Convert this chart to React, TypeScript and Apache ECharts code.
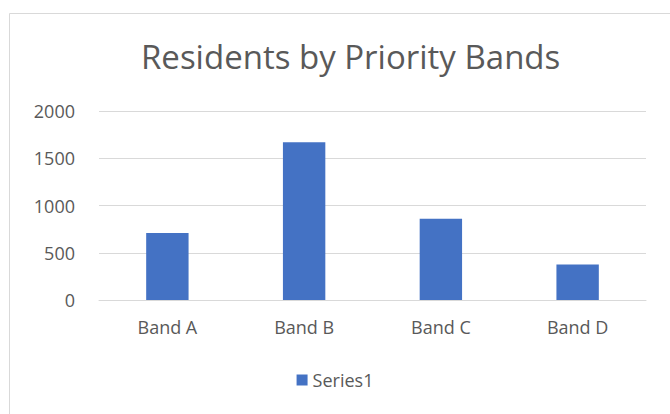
import React, { useEffect, useRef } from "react";
import * as echarts from "echarts";

const categories = ["Band A", "Band B", "Band C", "Band D"];
const seriesName = "Series1";
const values = [710, 1670, 860, 375];
const yTicks = [0, 500, 1000, 1500, 2000];

export default function App() {
  const ref = useRef<HTMLDivElement>(null);
  useEffect(() => {
    if (!ref.current) return;
    const chart = echarts.init(ref.current, undefined, { renderer: "svg" });
    const font = "Open Sans, Liberation Sans, sans-serif";
    chart.setOption({
      animation: false,
      backgroundColor: "#ffffff",
      graphic: [
        {
          type: "rect",
          shape: { x: 9.5, y: 13.5, width: 700, height: 450 },
          style: { fill: "#ffffff", stroke: "#d9d9d9", lineWidth: 1 },
          z: -10,
          silent: true,
        },
      ],
      title: {
        text: "Residents by Priority Bands",
        left: 136,
        top: 35,
        textStyle: { color: "#595959", fontSize: 33, fontWeight: "normal", fontFamily: font },
      },
      legend: {
        data: [seriesName],
        bottom: 20,
        left: "center",
        icon: "rect",
        itemWidth: 11,
        itemHeight: 11,
        itemGap: 2,
        textStyle: { color: "#595959", fontSize: 18, fontFamily: font },
      },
      grid: { left: 99, right: 24, top: 111, bottom: 114, containLabel: false },
      xAxis: {
        type: "category",
        data: categories,
        axisLine: { lineStyle: { color: "#d9d9d9" } },
        axisTick: { show: false },
        axisLabel: { color: "#595959", fontSize: 18, fontFamily: font, margin: 18 },
      },
      yAxis: {
        type: "value",
        min: yTicks[0],
        max: yTicks[yTicks.length - 1],
        interval: 500,
        axisLine: { show: false },
        axisTick: { show: false },
        splitLine: { lineStyle: { color: "#d9d9d9" } },
        axisLabel: {
          color: "#595959",
          fontSize: 18,
          fontFamily: font,
          margin: 24,
          formatter: (v: number) => String(v),
        },
      },
      series: [
        {
          name: seriesName,
          type: "bar",
          data: values,
          barWidth: "31%",
          itemStyle: { color: "#4472C4" },
        },
      ],
    });
    return () => chart.dispose();
  }, []);
  return (
    <div
      ref={ref}
      style={{ position: "fixed", left: 0, top: 0, width: 670, height: 414 }}
    />
  );
}
